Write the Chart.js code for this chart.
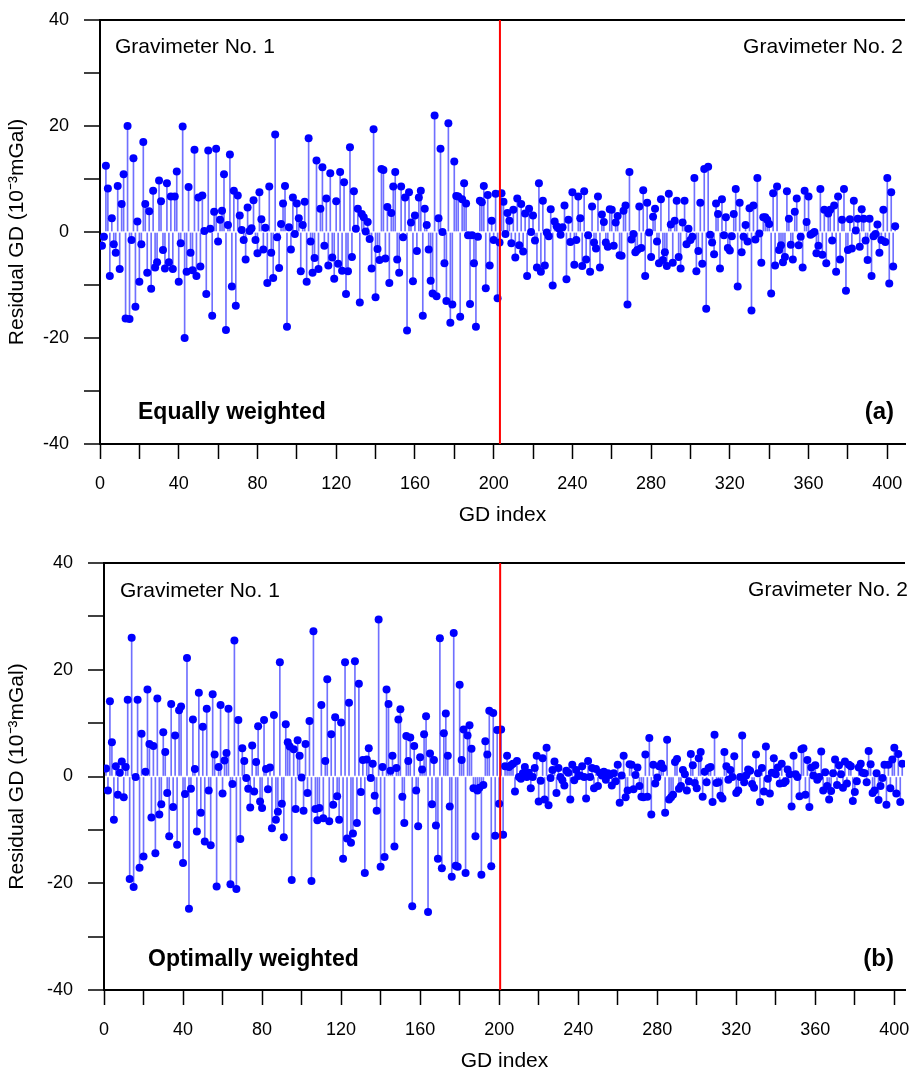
<!DOCTYPE html>
<html>
<head>
<meta charset="utf-8">
<script src="https://cdn.jsdelivr.net/npm/chart.js@4.4.1/dist/chart.umd.min.js"></script>
<style>
  html, body { margin: 0; padding: 0; background: #fff; overflow: hidden; }
  #wrap { position: relative; width: 909px; height: 1069px; overflow: hidden; background: #fff; }
  canvas { position: absolute; left: 0; display: block; }
  #cA { top: 0; }
  #cB { top: 540px; }
</style>
</head>
<body>
<div id="wrap">
  <canvas id="cA" width="909" height="540"></canvas>
  <canvas id="cB" width="909" height="546"></canvas>
</div>
<script>
// ---------------- data (residual GD, 10^-3 mGal) ----------------
const yTickLabels = [-40, -20, 0, 20, 40];
const xTickLabels = [0, 40, 80, 120, 160, 200, 240, 280, 320, 360, 400];
const panelLabels = ['(a)', '(b)'];
const weightingNames = ['Equally weighted', 'Optimally weighted'];
const gravimeterNames = ['Gravimeter No. 1', 'Gravimeter No. 2'];
const boundaryA = 203.2;   // GD index where gravimeter 2 starts (panel a)
const boundaryB = 200.5;   // GD index where gravimeter 2 starts (panel b)

// Panel (a): equally weighted
const residualA_grav1 = [
 -2.6,-0.9,12.5,8.2,-8.3,2.6,-2.3,-3.9,8.7,-7.0,5.3,10.9,-16.3,20.0,-16.4,-1.5,13.9,-14.1,2.0,-9.4,
 -2.3,17.0,5.3,-7.7,3.9,-10.7,7.8,-6.7,-5.7,9.7,5.8,-3.4,-6.9,9.2,-5.7,6.7,-7.0,6.7,11.4,-9.4,
 -2.1,19.9,-20.0,-7.5,8.5,-3.9,-7.2,15.5,-8.3,6.5,-6.5,6.9,0.2,-11.7,15.4,0.6,-15.8,3.8,15.7,-1.8,
 2.3,4.0,10.9,-18.5,1.3,14.6,-10.3,7.8,-13.9,6.9,3.1,0.4,-1.5,-5.2,4.6,0.2,0.7,6.0,-1.5,-4.0,
 7.5,2.4,-3.3,0.8,-9.6,8.6,-3.9,-8.7,18.4,-1.0,-6.8,1.5,5.4,8.7,-17.9,0.9,-3.3,6.5,-0.4,5.4,
 2.6,-7.4,1.3,5.7,-9.4,17.7,-1.8,-7.7,-4.9,13.5,-7.0,4.4,12.2,-2.6,6.3,-6.3,11.1,-4.8,-8.8,5.8,
 -6.0,11.3,-7.3,9.4,-11.7,-7.4,16.0,-4.7,7.7,0.6,4.4,-13.3,3.4,2.8,0.1,1.9,-1.3,-6.9,19.4,-12.3,
 -3.2,-5.3,11.9,11.7,-5.0,4.7,-9.6,3.6,8.6,11.3,-5.2,-7.7,8.6,-1.0,6.5,-18.6,7.5,1.8,-9.3,3.1,
 -3.6,6.5,7.8,-15.8,4.4,1.3,-3.3,-9.2,-11.6,22.0,-12.1,2.6,15.7,0.0,-5.9,-13.0,20.5,-17.1,-13.7,13.3,
 6.8,6.7,-16.0,6.2,9.2,5.4,-0.6,-13.6,-0.6,-5.9,-17.9,-0.9,5.9,5.6,8.7,-10.6,7.0,-6.3,2.1,-1.5,
 7.2,-12.5,-2.0
];
const residualA_grav2 = [
 7.3,5.7,-0.4,3.6,2.1,-2.1,4.2,-4.8,6.3,-2.5,5.3,-3.7,3.5,-8.3,4.4,0.0,3.1,-1.6,-6.7,9.2,
 -7.5,5.9,-6.3,-0.1,-0.8,4.3,-10.1,2.0,1.1,0.7,-0.5,0.9,5.0,-8.9,2.3,-1.9,7.5,-6.2,-1.5,6.7,
 2.6,-6.4,7.7,-5.2,-0.6,-7.5,4.8,-2.0,-3.1,6.7,-6.7,3.3,1.9,-2.0,-2.8,4.3,4.2,-2.6,1.8,3.0,
 -4.4,-4.5,4.0,5.0,-13.7,11.3,-1.4,-0.4,-3.8,-3.4,4.8,-3.0,7.9,-8.3,5.5,-0.1,-4.7,2.9,4.4,-1.8,
 -5.9,6.2,-5.3,-3.8,-6.4,7.2,1.4,-5.8,2.1,5.9,-4.7,-6.9,1.8,5.9,-2.3,0.6,-1.5,-0.9,10.2,-7.4,
 -3.6,5.5,-6.0,11.9,-14.5,12.3,-0.5,-2.0,-4.2,5.4,3.4,-6.9,6.2,-0.6,2.8,-3.0,-3.5,-0.8,3.4,8.1,
 -10.3,5.5,-3.8,-0.9,1.3,-1.8,4.5,-14.8,5.0,-1.4,10.2,-0.3,-5.8,2.8,2.8,2.3,1.5,-11.6,7.3,-6.3,
 8.6,-3.4,-2.5,-5.7,-4.7,7.7,2.5,-2.4,-5.2,3.8,6.3,-2.5,-0.9,-6.7,7.8,1.9,6.7,-0.5,-0.3,0.0,
 -4.0,-2.6,8.1,-4.3,4.2,-5.9,3.5,4.2,-1.6,5.0,-7.5,6.7,-5.2,2.3,8.1,-11.1,-3.4,2.4,-3.1,5.9,
 0.3,2.5,-2.8,4.3,2.5,-1.6,-5.3,2.5,-8.3,-0.8,-0.4,1.4,-3.9,-1.5,4.2,-1.9,10.2,-9.7,7.5,-6.5,
 1.1
];

// Panel (b): optimally weighted
const residualB_grav1 = [
 1.5,-2.6,14.1,6.4,-8.1,1.9,-3.4,0.7,2.8,-3.9,1.8,14.4,-19.2,26.0,-20.7,-0.1,14.4,-17.1,8.0,-15.0,
 0.9,16.3,6.1,-7.7,5.7,-14.4,14.6,-7.1,-5.2,8.3,4.6,-3.1,-11.2,13.6,-5.7,7.7,-12.8,12.4,13.1,-16.2,
 -3.3,22.2,-24.8,-2.3,10.7,1.4,-10.3,15.7,-6.8,9.3,-12.2,12.7,-2.6,-12.9,15.4,4.1,-20.6,1.8,13.4,-3.2,
 3.0,4.4,12.7,-20.2,-1.4,25.5,-21.1,10.6,-11.7,5.3,2.9,-0.3,-2.3,-5.8,5.8,-2.8,2.7,9.4,-4.7,-5.9,
 10.6,1.4,-2.4,1.7,-9.7,11.5,-8.1,-6.6,21.4,-5.1,-11.4,9.8,6.4,5.6,-19.4,5.1,-6.1,6.8,3.9,-0.2,
 -6.4,6.1,-3.1,10.4,-19.6,27.2,-6.1,-8.2,-5.9,13.4,-7.8,2.9,18.2,-8.4,7.9,-5.3,11.1,-3.7,-8.1,10.1,
 -15.4,21.4,-11.6,13.8,-12.4,-10.7,21.6,-8.7,17.4,-2.9,3.1,-18.1,3.2,5.3,-0.3,2.4,-3.6,-6.4,29.4,-16.9,
 1.8,-15.1,16.3,13.6,1.1,3.9,-13.1,1.6,10.7,12.6,-3.8,-8.7,7.6,2.9,7.3,-24.3,5.7,-2.6,-9.3,3.6,
 1.3,7.9,11.3,-25.4,4.3,-5.2,3.1,-9.2,-15.4,25.9,-17.2,8.1,11.8,3.9,-5.6,-18.8,26.9,-16.7,-16.9,17.2,
 3.1,8.8,-18.1,7.7,9.6,5.2,-2.2,-11.2,-2.6,-2.1,-18.4,-1.6,6.6,4.1,12.3,-16.8,11.9,-11.1,8.7,-5.1
];
const residualB_grav2 = [
 8.8,-10.9,1.9,3.9,1.8,2.1,2.4,-2.8,2.9,-0.1,-0.4,0.6,1.8,-0.1,0.7,-2.2,-0.1,1.6,3.9,-4.7,
 -0.8,3.4,-4.3,5.4,-5.4,-0.3,1.2,2.8,-3.1,1.6,-0.1,-0.7,-1.7,1.1,0.7,-4.3,2.2,-0.7,1.2,0.1,
 0.2,1.9,-0.1,-4.1,2.9,-0.1,1.6,-2.2,1.4,-1.8,0.7,0.2,0.9,-0.6,0.6,0.3,-1.7,0.6,-0.9,2.2,
 -4.9,0.2,3.9,-3.9,-2.6,2.3,2.2,-2.4,0.3,1.7,-1.8,-3.8,-3.9,4.1,-3.8,7.2,-7.1,2.2,-1.3,-0.2,
 1.9,2.4,1.6,-6.8,6.9,-4.3,-3.9,-3.4,2.7,3.3,-2.3,-1.8,1.2,0.4,-2.6,-0.9,4.2,2.1,-1.2,-2.2,
 3.4,4.6,-3.8,0.9,-1.1,1.6,1.8,-4.8,7.8,-1.2,-1.1,-3.6,-4.1,4.6,1.9,-0.6,1.2,-0.1,3.8,-3.1,
 -2.6,-0.1,7.7,-1.1,0.2,1.3,1.1,-1.4,-2.1,4.1,0.6,-4.8,1.6,-2.8,5.6,-0.4,-3.2,0.7,3.4,0.4,
 1.7,-1.3,2.4,-1.2,-0.9,1.3,0.4,-5.6,3.9,0.4,-0.1,-3.7,5.1,5.3,-3.4,3.1,-5.7,1.7,0.2,2.1,
 -0.6,-0.1,4.7,-2.6,0.8,-1.8,-4.3,-2.7,0.6,3.2,-1.6,2.1,0.4,-2.1,2.8,-1.3,2.2,1.9,-4.6,-2.9,
 -0.9,1.7,2.4,0.7,0.6,-1.1,4.8,2.3,-3.1,-2.6,0.6,-4.4,-1.8,-0.3,2.2,-5.3,2.2,-2.2,3.2,5.4,
 -3.2,4.2,-4.8,2.4
];

// ---------------- helpers ----------------
Chart.defaults.font.family = '"Liberation Sans", Arial, Helvetica, sans-serif';
Chart.defaults.color = '#000';

function toPoints(g1, g2) {
  const pts = [];
  g1.forEach((v, i) => pts.push({ x: i + 1, y: v }));
  g2.forEach((v, i) => pts.push({ x: g1.length + i + 1, y: v }));
  return pts;
}

const textPlugin = {
  id: 'panelText',
  afterDraw(chart, args, opts) {
    const ctx = chart.ctx;
    ctx.save();
    (opts.items || []).forEach(t => {
      ctx.font = t.font;
      ctx.fillStyle = '#000';
      ctx.textAlign = t.align;
      ctx.textBaseline = 'alphabetic';
      ctx.fillText(t.text, t.x, t.y);
    });
    ctx.restore();
  }
};

function makePanel(id, g1, g2, boundary, cfg) {
  const pts = toPoints(g1, g2);
  return new Chart(document.getElementById(id), {
    type: 'bar',
    data: {
      datasets: [
        {
          type: 'line',
          data: [{ x: boundary, y: -40 }, { x: boundary, y: 40 }],
          borderColor: '#ff0000',
          borderWidth: 2,
          pointRadius: 0,
          order: 0
        },
        {
          type: 'scatter',
          data: pts,
          backgroundColor: '#0000ff',
          borderWidth: 0,
          pointRadius: 4,
          order: 1
        },
        {
          type: 'bar',
          data: pts,
          backgroundColor: '#7070ff',
          borderWidth: 0,
          barThickness: 1,
          order: 2
        }
      ]
    },
    options: {
      responsive: false,
      devicePixelRatio: 1,
      animation: false,
      events: [],
      layout: { padding: { top: cfg.top, left: 0, right: 0, bottom: 0 } },
      plugins: {
        legend: { display: false },
        tooltip: { enabled: false },
        panelText: { items: cfg.texts }
      },
      scales: {
        x: {
          type: 'linear',
          min: 0,
          max: cfg.xMax,
          offset: false,
          afterFit(s) { s.height = 96; s.paddingLeft = 0; s.paddingRight = 0; },
          ticks: {
            stepSize: 20,
            autoSkip: false,
            maxRotation: 0,
            includeBounds: false,
            padding: 14,
            font: { size: 18 },
            color: '#000',
            callback: v => xTickLabels.includes(v) ? String(v) : ''
          },
          grid: {
            offset: false,
            drawOnChartArea: false,
            drawTicks: true,
            tickLength: 15,
            tickColor: '#000',
            tickWidth: 1.5
          },
          border: { display: true, color: '#000', width: 2 },
          title: {
            display: true,
            text: 'GD index',
            font: { size: 21 },
            color: '#000',
            padding: { top: 0, bottom: 12 }
          }
        },
        y: {
          type: 'linear',
          min: -40,
          max: 40,
          afterFit(s) { s.width = cfg.yWidth; s.paddingTop = 0; s.paddingBottom = 0; },
          ticks: {
            stepSize: 10,
            autoSkip: false,
            padding: 15,
            font: { size: 18 },
            color: '#000',
            callback: v => yTickLabels.includes(v) ? String(v) : ''
          },
          grid: {
            drawOnChartArea: true,
            color: c => (c.tick && c.tick.value === 40) ? '#000' : 'rgba(0,0,0,0)',
            lineWidth: 2,
            drawTicks: true,
            tickLength: 16,
            tickColor: '#000',
            tickWidth: 1.5
          },
          border: { display: true, color: '#000', width: 2 },
          title: {
            display: true,
            text: 'Residual GD (10⁻³mGal)',
            font: { size: 21 },
            color: '#000',
            padding: { top: 5, bottom: 0 }
          }
        }
      }
    },
    plugins: [textPlugin]
  });
}

makePanel('cA', residualA_grav1, residualA_grav2, boundaryA, {
  top: 20, xMax: 409, yWidth: 100,
  texts: [
    { text: gravimeterNames[0], x: 115, y: 53, align: 'left', font: '21px "Liberation Sans", Arial, sans-serif' },
    { text: gravimeterNames[1], x: 903, y: 53, align: 'right', font: '21px "Liberation Sans", Arial, sans-serif' },
    { text: weightingNames[0], x: 138, y: 419, align: 'left', font: 'bold 23px "Liberation Sans", Arial, sans-serif' },
    { text: panelLabels[0], x: 894, y: 419, align: 'right', font: 'bold 24px "Liberation Sans", Arial, sans-serif' }
  ]
});

makePanel('cB', residualB_grav1, residualB_grav2, boundaryB, {
  top: 23, xMax: 405.4, yWidth: 104,
  texts: [
    { text: gravimeterNames[0], x: 120, y: 57, align: 'left', font: '21px "Liberation Sans", Arial, sans-serif' },
    { text: gravimeterNames[1], x: 908, y: 56, align: 'right', font: '21px "Liberation Sans", Arial, sans-serif' },
    { text: weightingNames[1], x: 148, y: 426, align: 'left', font: 'bold 23px "Liberation Sans", Arial, sans-serif' },
    { text: panelLabels[1], x: 894, y: 426, align: 'right', font: 'bold 24px "Liberation Sans", Arial, sans-serif' }
  ]
});
</script>
</body>
</html>
